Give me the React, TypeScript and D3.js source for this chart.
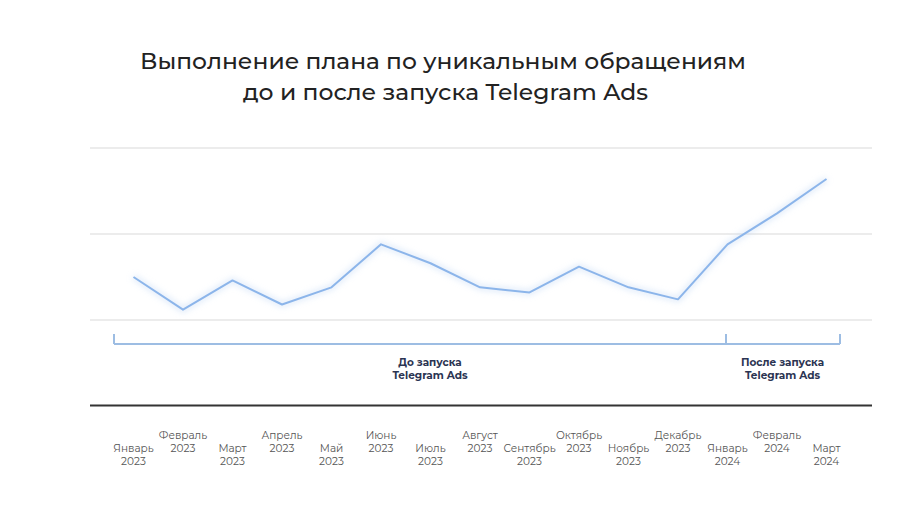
import React, { useEffect, useRef } from "react";
import * as d3 from "d3";

const months = [
  "Январь", "Февраль", "Март", "Апрель", "Май", "Июнь", "Июль", "Август",
  "Сентябрь", "Октябрь", "Ноябрь", "Декабрь", "Январь", "Февраль", "Март",
];
const years = [
  "2023", "2023", "2023", "2023", "2023", "2023", "2023", "2023",
  "2023", "2023", "2023", "2023", "2024", "2024", "2024",
];
// plan completion, %
const planValues = [75, 56, 73, 59, 69, 94, 83, 69, 66, 81, 69, 62, 94, 112, 132];
const gridValues = [50, 100, 150];
const periods = [
  { label: ["До запуска", "Telegram Ads"], from: 0, to: 12 },
  { label: ["После запуска", "Telegram Ads"], from: 12, to: 14 },
];
const titleLines = [
  "Выполнение плана по уникальным обращениям",
  "до и после запуска Telegram Ads",
];

const W = 912;
const H = 513;

export default function App() {
  const svgRef = useRef<SVGSVGElement | null>(null);

  useEffect(() => {
    if (!svgRef.current) return;
    const svg = d3.select(svgRef.current);
    svg.selectAll("*").remove();

    const font = "Montserrat, 'Noto Sans', sans-serif";

    const x = d3.scalePoint<number>()
      .domain(d3.range(months.length))
      .range([133.5, 826.5]);
    const y = d3.scaleLinear().domain([50, 150]).range([320, 148]);

    // title
    svg.selectAll(".title")
      .data(titleLines)
      .enter()
      .append("text")
      .attr("class", "title")
      .attr("x", (d, i) => (i === 0 ? 443 : 445.5))
      .attr("y", (d, i) => 69 + i * 31)
      .attr("text-anchor", "middle")
      .attr("font-family", font)
      .attr("font-size", 23)
      .attr("font-weight", 500)
      .attr("fill", "#222")
      .attr("textLength", (d, i) => (i === 0 ? 606 : 405))
      .attr("lengthAdjust", "spacingAndGlyphs")
      .text(d => d);

    // gridlines
    svg.selectAll(".grid")
      .data(gridValues)
      .enter()
      .append("line")
      .attr("x1", 90)
      .attr("x2", 872)
      .attr("y1", d => y(d))
      .attr("y2", d => y(d))
      .attr("stroke", "#e6e6e6")
      .attr("stroke-width", 1.5);

    // line with soft glow
    const defs = svg.append("defs");
    defs.append("filter")
      .attr("id", "glow")
      .append("feGaussianBlur")
      .attr("stdDeviation", 3);

    const line = d3.line<number>()
      .x((d, i) => x(i)!)
      .y(d => y(d));

    svg.append("path")
      .datum(planValues)
      .attr("d", line)
      .attr("fill", "none")
      .attr("stroke", "#bcd4f4")
      .attr("stroke-width", 5)
      .attr("opacity", 0.5)
      .attr("filter", "url(#glow)");

    svg.append("path")
      .datum(planValues)
      .attr("d", line)
      .attr("fill", "none")
      .attr("stroke", "#8cb5ea")
      .attr("stroke-width", 2)
      .attr("stroke-linejoin", "round");

    // period bracket
    const bracketY = 344;
    const bracketLeft = 114;
    const bracketRight = 840;
    const bracket = svg.append("g");
    bracket.append("line")
      .attr("x1", bracketLeft)
      .attr("x2", bracketRight)
      .attr("y1", bracketY)
      .attr("y2", bracketY)
      .attr("stroke", "#9dbde3")
      .attr("stroke-width", 2);
    bracket.selectAll(".tick")
      .data([bracketLeft, x(12)! - 1.5, bracketRight])
      .enter()
      .append("line")
      .attr("x1", d => d)
      .attr("x2", d => d)
      .attr("y1", 334)
      .attr("y2", bracketY)
      .attr("stroke", "#9dbde3")
      .attr("stroke-width", 2);

    const periodCenters = [430, 782.5];
    const pl = svg.selectAll(".period")
      .data(periods)
      .enter()
      .append("text")
      .attr("class", "period")
      .attr("text-anchor", "middle")
      .attr("font-family", font)
      .attr("font-size", 10.5)
      .attr("font-weight", 700)
      .attr("fill", "#2b3452");
    pl.selectAll("tspan")
      .data((d, i) => d.label.map(t => ({ t, cx: periodCenters[i] })))
      .enter()
      .append("tspan")
      .attr("x", d => d.cx)
      .attr("y", (d, i) => 366 + i * 13)
      .text(d => d.t);

    // baseline
    svg.append("line")
      .attr("x1", 90)
      .attr("x2", 872)
      .attr("y1", 405.5)
      .attr("y2", 405.5)
      .attr("stroke", "#333")
      .attr("stroke-width", 2);

    // month labels, staggered
    const ml = svg.selectAll(".month")
      .data(months)
      .enter()
      .append("text")
      .attr("class", "month")
      .attr("text-anchor", "middle")
      .attr("font-family", font)
      .attr("font-size", 10.5)
      .attr("fill", "#555");
    ml.append("tspan")
      .attr("x", (d, i) => x(i)!)
      .attr("y", (d, i) => (i % 2 === 0 ? 452 : 439))
      .text(d => d);
    ml.append("tspan")
      .attr("x", (d, i) => x(i)!)
      .attr("y", (d, i) => (i % 2 === 0 ? 465 : 452))
      .text((d, i) => years[i]);
  }, []);

  return (
    <div style={{ position: "absolute", left: 0, top: 0, width: W, height: H, background: "#fff" }}>
      <svg ref={svgRef} width={W} height={H} />
    </div>
  );
}
